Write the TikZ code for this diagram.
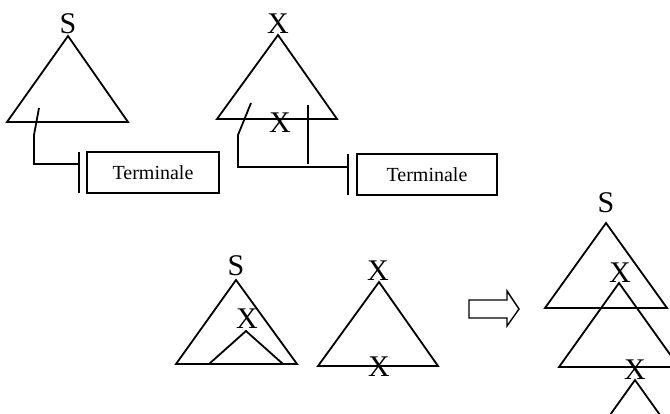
\documentclass[tikz,border=0pt]{standalone}
\usepackage{fontspec}
\setmainfont{Liberation Serif}
\begin{document}
\begin{tikzpicture}[x=1pt,y=-1pt,line width=1.8pt,line join=miter,
  sym/.style={font=\fontsize{30}{31}\selectfont,inner sep=0pt,anchor=base},
  term/.style={draw,line width=1.4pt,inner sep=0pt,minimum height=41pt,font=\fontsize{20}{22}\selectfont},
  bar/.style={line width=1.4pt}]
\useasboundingbox (0,0) rectangle (670,413);
\clip (0,0) rectangle (670,413);
% ---------- top left: S tree ----------
\draw (68,36) -- (7,122) -- (128,122) -- cycle;
\node[sym] (s1) at (68,33) {S};
\node[term,minimum width=132pt] (t1) at (153,172.5) {Terminale};
\coordinate (a1) at (39,108);
\coordinate (b1) at (34,135);
\coordinate (c1) at (34,164);
\coordinate (d1) at (79,164);
\coordinate (bt1) at (79,152);
\coordinate (bb1) at (79,193);
\draw (a1) -- (b1) -- (c1) -- (d1);
\draw[bar] (bt1) -- (bb1);
% ---------- top right: X tree ----------
\draw (278,35) -- (217,119) -- (337,119) -- cycle;
\node[sym] (x1) at (278,33) {X};
\node[sym] (x2) at (280,132) {X};
\node[term,minimum width=140pt] (t2) at (427,174.5) {Terminale};
\coordinate (a2) at (251,103);
\coordinate (b2) at (238,135);
\coordinate (c2) at (238,167);
\coordinate (d2) at (348,167);
\coordinate (e2) at (308,105);
\coordinate (f2) at (308,164);
\coordinate (bt2) at (348,154);
\coordinate (bb2) at (348,195);
\draw (a2) -- (b2) -- (c2) -- (d2);
\draw (e2) -- (f2);
\draw[bar] (bt2) -- (bb2);
% ---------- bottom middle: S tree with X subtree ----------
\draw (236,280) -- (176,364) -- (297,364) -- cycle;
\draw (246,331) -- (209,364) -- (283,364) -- cycle;
\node[sym] (s2) at (236,275) {S};
\node[sym] (x3) at (247,328) {X};
% ---------- bottom middle: X tree ----------
\draw (379,282) -- (318,366) -- (438,366) -- cycle;
\node[sym] (x4) at (378,280) {X};
\node[sym] (x5) at (379,376) {X};
% ---------- arrow ----------
\draw[line width=1.4pt] (469,300) -- (507,300) -- (507,291) -- (519,309) -- (507,326) -- (507,318) -- (469,318) -- cycle;
% ---------- right: derived tree ----------
\draw (606,223) -- (545,308) -- (667,308) -- cycle;
\draw (619,283) -- (559,367) -- (679,367) -- cycle;
\draw (635,380) -- (575,464) -- (695,464) -- cycle;
\node[sym] (s3) at (606,212) {S};
\node[sym] (x6) at (620,282) {X};
\node[sym] (x7) at (635,379) {X};
\end{tikzpicture}
\end{document}
